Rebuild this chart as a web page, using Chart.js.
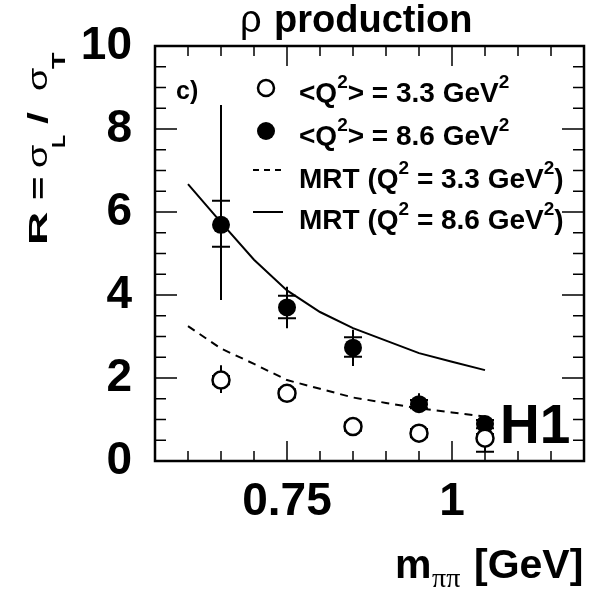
<!DOCTYPE html>
<html><head><meta charset="utf-8">
<script src="https://cdn.jsdelivr.net/npm/chart.js@4"></script>
<style>html,body{margin:0;padding:0;background:#fff}canvas{display:block}</style>
</head><body>
<canvas id="c" width="599" height="590"></canvas>
<script>
// ---------- data ----------
const massBins = [0.65, 0.75, 0.85, 0.95, 1.05];

const rLowQ2        = [1.95, 1.63, 0.83, 0.67, 0.55];   // <Q2> = 3.3 GeV2
const rLowStatUp    = [0.36, 0.15, 0.12, 0.12, 0.15];
const rLowStatDown  = [0.31, 0.15, 0.12, 0.12, 0.33];
const rLowSysUp     = [0.10, 0.10, 0.10, 0.10, 0.10];
const rLowSysDown   = [0.10, 0.10, 0.10, 0.10, 0.33];

const rHighQ2       = [5.69, 3.70, 2.73, 1.37, 0.89];   // <Q2> = 8.6 GeV2
const rHighStatUp   = [2.89, 0.50, 0.43, 0.26, 0.15];
const rHighStatDown = [1.81, 0.50, 0.44, 0.20, 0.15];
const rHighSysUp    = [0.58, 0.28, 0.25, 0.10, 0.10];
const rHighSysDown  = [0.53, 0.26, 0.22, 0.10, 0.10];

const mrtMass   = [0.60, 0.65, 0.70, 0.75, 0.80, 0.85, 0.90, 0.95, 1.00, 1.05];
const mrtLowQ2  = [3.25, 2.71, 2.34, 1.95, 1.74, 1.53, 1.40, 1.27, 1.17, 1.07];
const mrtHighQ2 = [6.67, 5.75, 4.85, 4.11, 3.59, 3.20, 2.90, 2.60, 2.39, 2.19];

const xMajorTicks = [0.75, 1.0];
const xTickLabels = ['0.75', '1'];
const yMajorTicks = [0, 2, 4, 6, 8, 10];
const yTickLabels = ['0', '2', '4', '6', '8', '10'];

const legendTexts = [
  ['<Q', '2', '> = 3.3 GeV', '2', ''],
  ['<Q', '2', '> = 8.6 GeV', '2', ''],
  ['MRT (Q', '2', ' = 3.3 GeV', '2', ')'],
  ['MRT (Q', '2', ' = 8.6 GeV', '2', ')']
];
const panelLabel = 'c)';
const expLabel = 'H1';

// ---------- helpers ----------
const FAM = '"Liberation Sans", Arial, sans-serif';
const B = s => `bold ${s}px ${FAM}`;
const N = s => `${s}px ${FAM}`;
const near = (a, b) => Math.abs(a - b) < 1e-6;
const pts = (xs, ys) => xs.map((x, i) => ({x, y: ys[i]}));

function rich(ctx, x, y, parts) {
  let cx = x;
  for (const [t, f, dy] of parts) {
    if (!t) continue;
    ctx.font = f;
    ctx.fillText(t, cx, y + (dy || 0));
    cx += ctx.measureText(t).width;
  }
  return cx - x;
}

// error bars (drawn before the markers)
const errorBars = {
  id: 'errorBars',
  beforeDatasetsDraw(chart) {
    const {ctx, scales: {x, y}} = chart;
    ctx.save();
    ctx.strokeStyle = '#000';
    ctx.lineWidth = 2;
    const draw = (vals, sU, sD, yU, yD) => {
      vals.forEach((v, i) => {
        const px = x.getPixelForValue(massBins[i]);
        ctx.beginPath();
        ctx.moveTo(px, y.getPixelForValue(v + sU[i]));
        ctx.lineTo(px, y.getPixelForValue(v - sD[i]));
        const cu = y.getPixelForValue(v + yU[i]);
        const cd = y.getPixelForValue(v - yD[i]);
        ctx.moveTo(px - 9, cu); ctx.lineTo(px + 9, cu);
        ctx.moveTo(px - 9, cd); ctx.lineTo(px + 9, cd);
        ctx.stroke();
      });
    };
    draw(rHighQ2, rHighStatUp, rHighStatDown, rHighSysUp, rHighSysDown);
    draw(rLowQ2, rLowStatUp, rLowStatDown, rLowSysUp, rLowSysDown);
    ctx.restore();
  }
};

// frame, inward ticks, legend and texts
const decorations = {
  id: 'decorations',
  afterDraw(chart) {
    const {ctx, chartArea: a, scales: {x, y}} = chart;
    ctx.save();
    ctx.strokeStyle = '#000';
    ctx.fillStyle = '#000';
    // ticks
    ctx.lineWidth = 1.5;
    ctx.beginPath();
    x.ticks.forEach(t => {
      const p = x.getPixelForValue(t.value);
      if (p <= a.left + 1 || p >= a.right - 1) return;
      const L = xMajorTicks.some(m => near(m, t.value)) ? 20 : 10;
      ctx.moveTo(p, a.bottom); ctx.lineTo(p, a.bottom - L);
      ctx.moveTo(p, a.top); ctx.lineTo(p, a.top + L);
    });
    y.ticks.forEach(t => {
      const p = y.getPixelForValue(t.value);
      if (p <= a.top + 1 || p >= a.bottom - 1) return;
      const L = yMajorTicks.some(m => near(m, t.value)) ? 22 : 11;
      ctx.moveTo(a.left, p); ctx.lineTo(a.left + L, p);
      ctx.moveTo(a.right, p); ctx.lineTo(a.right - L, p);
    });
    ctx.stroke();
    // frame
    ctx.lineWidth = 2.5;
    ctx.strokeRect(a.left, a.top, a.right - a.left, a.bottom - a.top);

    ctx.textAlign = 'left';
    ctx.textBaseline = 'alphabetic';

    // legend
    const mx = 266, tx = 299;
    const rows = [{m: 88, b: 102}, {m: 131, b: 145}, {m: 170, b: 188}, {m: 212, b: 229}];
    ctx.lineWidth = 2.5;
    ctx.beginPath(); ctx.arc(mx, rows[0].m, 8, 0, 2 * Math.PI);
    ctx.fillStyle = '#fff'; ctx.fill(); ctx.stroke();
    ctx.fillStyle = '#000';
    ctx.beginPath(); ctx.arc(mx, rows[1].m, 9, 0, 2 * Math.PI); ctx.fill();
    ctx.lineWidth = 2;
    ctx.setLineDash([6, 5]);
    ctx.beginPath(); ctx.moveTo(253, rows[2].m); ctx.lineTo(282, rows[2].m); ctx.stroke();
    ctx.setLineDash([]);
    ctx.beginPath(); ctx.moveTo(253, rows[3].m); ctx.lineTo(283, rows[3].m); ctx.stroke();
    legendTexts.forEach((p, i) => {
      rich(ctx, tx, rows[i].b, [[p[0], B(28)], [p[1], B(19), -14], [p[2], B(28)], [p[3], B(19), -14], [p[4], B(28)]]);
    });

    // panel label
    ctx.font = B(25);
    ctx.fillText(panelLabel, 176, 99);
    // H1
    ctx.font = B(55);
    ctx.fillText(expLabel, 500, 443);

    // title
    ctx.font = N(38);
    ctx.fillText('\u03c1', 240, 32);
    ctx.font = B(38);
    ctx.fillText('production', 274, 32);

    // x title
    ctx.font = B(41);
    ctx.fillText('m', 395, 578);
    ctx.font = '28px "Liberation Serif", serif';
    ctx.fillText('\u03c0\u03c0', 432, 587);
    ctx.font = B(41);
    ctx.fillText('[GeV]', 474, 578);

    // y title (rotated)
    ctx.translate(47, 243);
    ctx.rotate(-Math.PI / 2);
    const piece = (t, f, off, dy, sx) => {
      ctx.save(); ctx.translate(off, dy); ctx.scale(sx, 1);
      ctx.font = f; ctx.fillText(t, 0, 0); ctx.restore();
    };
    piece('R', B(25), -2, 0, 1.85);
    piece('=', B(25), 43, 0, 1.6);
    piece('\u03c3', N(27), 75, 0, 1.4);
    piece('L', B(18), 95, 18, 1.2);
    piece('/', B(27), 119, 0, 1.6);
    piece('\u03c3', N(27), 152, 0, 1.4);
    piece('T', B(18), 174, 18, 1.5);
    ctx.restore();
  }
};

const tickFont = {family: FAM, size: 46, weight: 'bold', lineHeight: 1};

new Chart(document.getElementById('c'), {
  type: 'scatter',
  data: {
    datasets: [
      {label: 'MRT (Q2 = 8.6 GeV2)', type: 'line', data: pts(mrtMass, mrtHighQ2),
       borderColor: '#000', borderWidth: 2, pointRadius: 0, tension: 0, fill: false, order: 4},
      {label: 'MRT (Q2 = 3.3 GeV2)', type: 'line', data: pts(mrtMass, mrtLowQ2),
       borderColor: '#000', borderWidth: 2, borderDash: [8, 6], pointRadius: 0, tension: 0, fill: false, order: 3},
      {label: '<Q2> = 8.6 GeV2', data: pts(massBins, rHighQ2),
       pointRadius: 9, backgroundColor: '#000', borderColor: '#000', borderWidth: 0, order: 2},
      {label: '<Q2> = 3.3 GeV2', data: pts(massBins, rLowQ2),
       pointRadius: 8.5, backgroundColor: '#fff', borderColor: '#000', borderWidth: 2.5, order: 1}
    ]
  },
  options: {
    responsive: false,
    devicePixelRatio: 1,
    animation: false,
    events: [],
    layout: {padding: {top: 46, right: 15, left: 0, bottom: 0}},
    plugins: {legend: {display: false}, tooltip: {enabled: false}, title: {display: false}},
    scales: {
      x: {
        type: 'linear', min: 0.55, max: 1.2,
        grid: {display: false}, border: {display: false},
        ticks: {
          stepSize: 0.05, autoSkip: false, maxRotation: 0, minRotation: 0,
          color: '#000', font: tickFont, padding: 10,
          callback: v => { const i = xMajorTicks.findIndex(m => near(m, v)); return i >= 0 ? xTickLabels[i] : ''; }
        },
        afterFit: s => { s.height = 129; }
      },
      y: {
        min: 0, max: 10,
        grid: {display: false}, border: {display: false},
        ticks: {
          stepSize: 0.5, autoSkip: false,
          color: '#000', font: tickFont, padding: 15,
          callback: v => { const i = yMajorTicks.findIndex(m => near(m, v)); return i >= 0 ? yTickLabels[i] : ''; }
        },
        afterFit: s => { s.width = 155; }
      }
    }
  },
  plugins: [errorBars, decorations]
});
</script>
</body></html>
